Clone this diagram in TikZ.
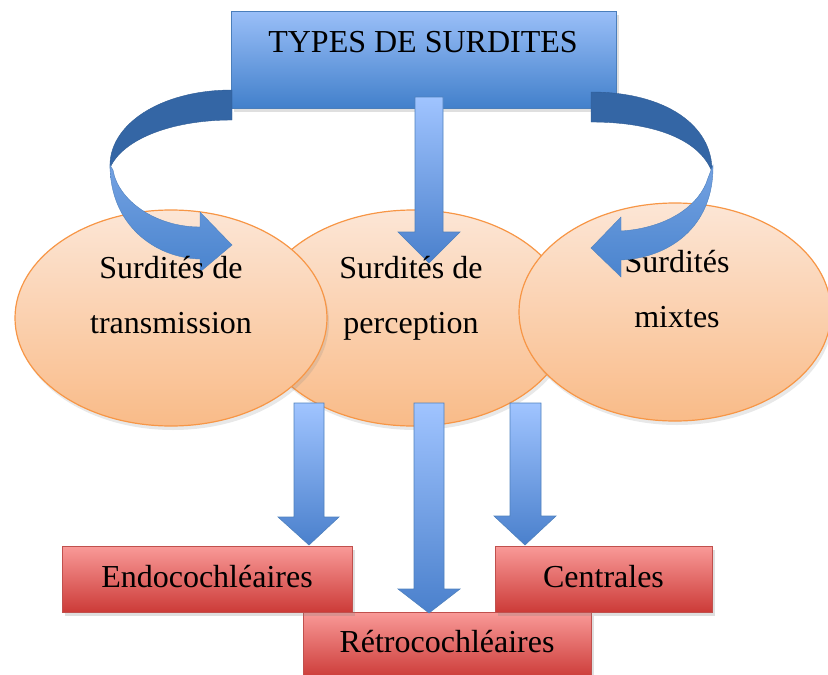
\documentclass[tikz,border=0pt]{standalone}
\usepackage{fontspec}
\setmainfont{Liberation Serif}
\usetikzlibrary{shapes.geometric,shadows}
\definecolor{boxtop}{HTML}{9ABFF8}
\definecolor{boxbot}{HTML}{4280CB}
\definecolor{boxline}{HTML}{4A7EBB}
\definecolor{arrtop}{HTML}{A0C4FF}
\definecolor{arrbot}{HTML}{4A80CC}
\definecolor{arrline}{HTML}{4F81BD}
\definecolor{arrdark}{HTML}{3466A5}
\definecolor{fronttop}{HTML}{74A2E2}
\definecolor{frontbot}{HTML}{4A84CE}
\definecolor{elltop}{HTML}{FCE6D6}
\definecolor{ellbot}{HTML}{F9BB88}
\definecolor{ellline}{HTML}{F79646}
\definecolor{redtop}{HTML}{F99A98}
\definecolor{redbot}{HTML}{CC3B38}
\definecolor{redline}{HTML}{C0504D}
\tikzset{
  lbl/.style={font=\fontsize{32}{38}\selectfont, anchor=base, inner sep=0pt},
  ell/.style={ellipse, draw=ellline, line width=1.2pt, top color=elltop, bottom color=ellbot, inner sep=0pt,
    drop shadow={opacity=0.18, shadow xshift=2pt, shadow yshift=-4pt}},
  redbox/.style={rectangle, draw=redline, line width=1pt, top color=redtop, bottom color=redbot, inner sep=0pt,
    minimum height=66pt, drop shadow={opacity=0.25, shadow xshift=3pt, shadow yshift=-4pt}},
  bluebox/.style={rectangle, draw=boxline, line width=0.8pt, top color=boxtop, bottom color=boxbot, inner sep=0pt,
    drop shadow={opacity=0.25, shadow xshift=3pt, shadow yshift=-4pt}},
  blockarrow/.style={draw=arrline, line width=0.6pt, top color=arrtop, bottom color=arrbot},
  darkband/.style={fill=arrdark, draw=arrdark!90!black, line width=0.4pt},
  frontband/.style={draw=arrline, line width=0.4pt, top color=fronttop, bottom color=frontbot},
}
\begin{document}
\begin{tikzpicture}[x=1pt,y=-1pt]
\useasboundingbox (0,0) rectangle (828,675);
% top box
\node[bluebox, minimum width=385pt, minimum height=97pt] (top) at (423.5,59.5) {};
\node[lbl] (toptxt) at (423,52) {TYPES DE SURDITES};
% ellipses
\node[ell, minimum width=314pt, minimum height=216pt] (emid) at (413,318) {};
\node[ell, minimum width=312pt, minimum height=216pt] (eleft) at (171,318) {};
\node[ell, minimum width=312pt, minimum height=218pt] (eright) at (675,312) {};
% left curved arrow
\path[darkband] (232,90) .. controls (160,90) and (108,125) .. (110,168)
  .. controls (122,140) and (170,120) .. (232,120) -- cycle;
\path[frontband] (110,165) .. controls (110,225) and (155,258) .. (200,259)
  -- (200,272) -- (232,245) -- (200,212) -- (200,227)
  .. controls (155,227) and (118,200) .. (113,170) -- cycle;
\node[lbl] (l1) at (171,278) {Surdités de};
\node[lbl] (l2) at (171,333) {transmission};
% centre arrow from top box
\path[blockarrow] (415,97) -- (443,97) -- (443,232) -- (460,232) -- (429,263)
  -- (398,232) -- (415,232) -- cycle;
\node[lbl] (m1) at (411,278) {Surdités de};
\node[lbl] (m2) at (411,333) {perception};
% right texts and curved arrow
\node[lbl] (r1) at (677,272) {Surdités};
\node[lbl] (r2) at (677,327) {mixtes};
\path[darkband] (591,92) .. controls (665,92) and (713,125) .. (712,172)
  .. controls (700,140) and (655,122) .. (591,122) -- cycle;
\path[frontband] (713,165) .. controls (714,228) and (668,258) .. (621,260)
  -- (621,277) -- (591,248) -- (621,217) -- (621,231)
  .. controls (668,228) and (700,205) .. (708,178) -- cycle;
% bottom boxes
\node[redbox, minimum width=288pt] (retro) at (447,645) {};
\node[lbl] (retrotxt) at (447,652) {Rétrocochléaires};
\node[redbox, minimum width=290pt] (endo) at (207,579) {};
\node[lbl] (endotxt) at (207,587) {Endocochléaires};
\node[redbox, minimum width=217pt] (centr) at (603.5,579) {};
\node[lbl] (centrtxt) at (603.5,587) {Centrales};
% bottom arrows
\path[blockarrow] (294,403) -- (324,403) -- (324,517) -- (339,517) -- (309,545)
  -- (278,517) -- (294,517) -- cycle;
\path[blockarrow] (414,403) -- (444,403) -- (444,589) -- (460,589) -- (429,613)
  -- (398,589) -- (414,589) -- cycle;
\path[blockarrow] (510,403) -- (541,403) -- (541,516) -- (556,516) -- (525,545)
  -- (494,516) -- (510,516) -- cycle;
\end{tikzpicture}
\end{document}
